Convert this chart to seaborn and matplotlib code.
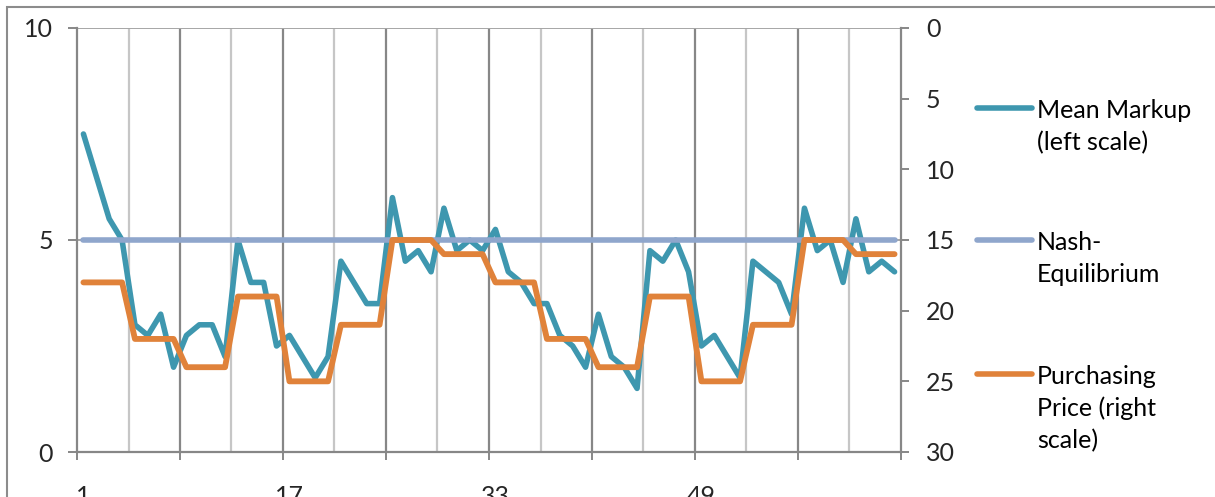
import pandas as pd
import matplotlib.pyplot as plt
import seaborn as sns
from matplotlib.lines import Line2D
from matplotlib.patches import Rectangle

# period numbers along the x axis
periods = list(range(1, 65))

# left scale
mean_markup = [
    7.5, 6.5, 5.5, 5.0, 3.0, 2.75, 3.25, 2.0,
    2.75, 3.0, 3.0, 2.25, 5.0, 4.0, 4.0, 2.5,
    2.75, 2.25, 1.75, 2.25, 4.5, 4.0, 3.5, 3.5,
    6.0, 4.5, 4.75, 4.25, 5.75, 4.75, 5.0, 4.75,
    5.25, 4.25, 4.0, 3.5, 3.5, 2.75, 2.5, 2.0,
    3.25, 2.25, 2.0, 1.5, 4.75, 4.5, 5.0, 4.25,
    2.5, 2.75, 2.25, 1.75, 4.5, 4.25, 4.0, 3.25,
    5.75, 4.75, 5.0, 4.0, 5.5, 4.25, 4.5, 4.25,
]
nash_equilibrium = [5.0] * 64

# right scale (inverted)
purchasing_price = [
    18, 18, 18, 18, 22, 22, 22, 22,
    24, 24, 24, 24, 19, 19, 19, 19,
    25, 25, 25, 25, 21, 21, 21, 21,
    15, 15, 15, 15, 16, 16, 16, 16,
    18, 18, 18, 18, 22, 22, 22, 22,
    24, 24, 24, 24, 19, 19, 19, 19,
    25, 25, 25, 25, 21, 21, 21, 21,
    15, 15, 15, 15, 16, 16, 16, 16,
]

x_tick_values = [1, 17, 33, 49]
left_ticks = [0, 5, 10]
right_ticks = [0, 5, 10, 15, 20, 25, 30]
legend_labels = [
    ["Mean Markup", "(left scale)"],
    ["Nash-", "Equilibrium"],
    ["Purchasing", "Price (right", "scale)"],
]

TEAL = "#3E97AF"
NASH = "#8FA6CC"
ORANGE = "#E0823A"
DARK_GRID = "#878787"
LIGHT_GRID = "#C6C6C6"
FS = 18

sns.set_theme(style="white")
plt.rcParams['font.family'] = ['Lato', 'DejaVu Sans']

df = pd.DataFrame({
    "period": periods,
    "markup": mean_markup,
    "nash": nash_equilibrium,
    "price": purchasing_price,
})

W, H = 1215, 497
fig = plt.figure(figsize=(W / 100, H / 100), dpi=100)
ax = fig.add_axes([77 / W, 1 - 452 / H, 824 / W, 424 / H])
ax2 = ax.twinx()

line_kw = dict(solid_capstyle="round", solid_joinstyle="round", legend=False)
sns.lineplot(data=df, x="period", y="markup", ax=ax, color=TEAL, lw=4, zorder=3, **line_kw)
sns.lineplot(data=df, x="period", y="nash", ax=ax, color=NASH, lw=4, zorder=4, **line_kw)
sns.lineplot(data=df, x="period", y="price", ax=ax2, color=ORANGE, lw=4.2, zorder=3, **line_kw)

n = len(periods)
ax.set_xlim(0.5, n + 0.5)
ax.set_ylim(0, 10)
ax2.set_ylim(30, 0)

# vertical grid: dark every 8 categories, light in between
for b in range(0, n + 1, 4):
    pos = b + 0.5
    if b == 0 or b == n:
        continue
    col = DARK_GRID if b % 8 == 0 else LIGHT_GRID
    ax.axvline(pos, color=col, lw=1.6, zorder=1)

for yv in left_ticks[1:]:
    ax.axhline(yv, color="#A6A6A6", lw=1.4, zorder=1)

ax.set_xticks(x_tick_values)
ax.set_xticklabels([str(v) for v in x_tick_values])
ax.set_xticks([b + 0.5 for b in range(0, n + 1, 8)], minor=True)
ax.tick_params(axis="x", which="major", length=0, pad=24, labelsize=FS)
ax.tick_params(axis="x", which="minor", bottom=True, length=6, width=1.4, color=DARK_GRID)

ax.set_yticks(left_ticks)
ax.tick_params(axis="y", left=True, length=6.5, width=1.4, color=DARK_GRID, pad=11, labelsize=FS)
ax2.set_yticks(right_ticks)
ax2.tick_params(axis="y", right=True, length=6, width=1.4, color=DARK_GRID, pad=12, labelsize=FS)

ax.set_xlabel("")
ax.set_ylabel("")
ax2.set_ylabel("")

for s in ["top", "right"]:
    ax.spines[s].set_visible(False)
for s in ["left", "bottom"]:
    ax.spines[s].set_color(DARK_GRID)
    ax.spines[s].set_linewidth(1.6)
for s in ["top", "left", "bottom"]:
    ax2.spines[s].set_visible(False)
ax2.spines["right"].set_color(DARK_GRID)
ax2.spines["right"].set_linewidth(1.6)

# legend drawn by hand so the sample sits on the first text line
handle_colors = [TEAL, NASH, ORANGE]
handle_y = [108, 240, 374]
for col, hy, lines in zip(handle_colors, handle_y, legend_labels):
    fig.add_artist(Line2D([977 / W, 1032 / W], [1 - hy / H, 1 - hy / H],
                          color=col, lw=4, solid_capstyle="round",
                          transform=fig.transFigure))
    for i, txt in enumerate(lines):
        base = hy + 10 + i * 32
        fig.text(1037 / W, 1 - base / H, txt, fontsize=FS, va="baseline",
                 ha="left", color="black")

# chart-area border (cropped at right and bottom)
fig.add_artist(Rectangle((7 / W, -0.5), 2, 1.5 - 6.5 / H, fill=False,
                         edgecolor="#8C8C8C", lw=1.5, transform=fig.transFigure))

fig.savefig("out.png", dpi=100)
